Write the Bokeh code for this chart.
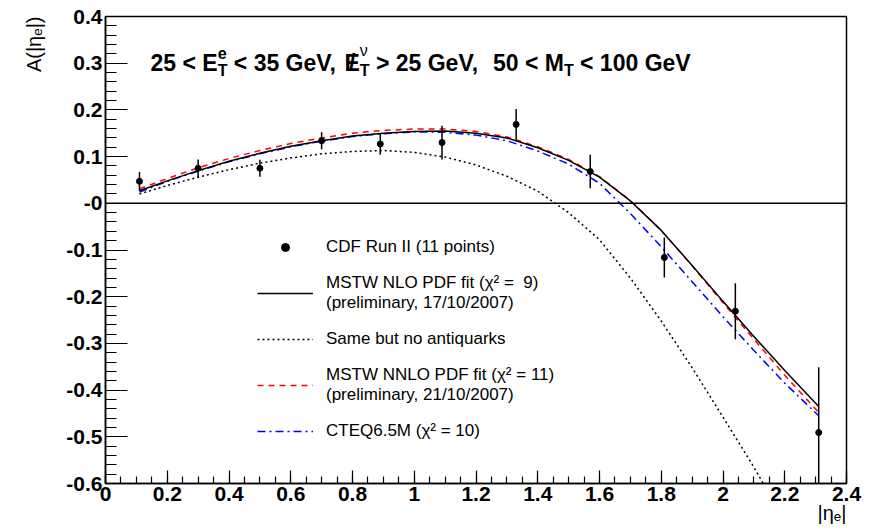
import numpy as np
from bokeh.plotting import figure
from bokeh.models import (Range1d, FixedTicker, Span, Label, Legend, LegendItem, Title,
                          CustomJSTickFormatter)
from bokeh.embed import file_html
from bokeh.resources import INLINE

# ---------------- data ----------------
eta_points = [0.11, 0.30, 0.50, 0.70, 0.89, 1.09, 1.33, 1.57, 1.81, 2.04, 2.31]
asym_points = [0.047, 0.075, 0.075, 0.134, 0.127, 0.130, 0.169, 0.068, -0.116, -0.231, -0.491]
asym_errors = [0.020, 0.019, 0.018, 0.018, 0.023, 0.036, 0.033, 0.036, 0.043, 0.060, 0.140]

eta_curve = [0.11, 0.2, 0.3, 0.4, 0.5, 0.6, 0.7, 0.8, 0.9, 1.0, 1.1, 1.2,
             1.3, 1.4, 1.5, 1.6, 1.7, 1.8, 1.9, 2.0, 2.1, 2.2, 2.31]
mstw_nlo = [0.027, 0.048, 0.070, 0.090, 0.107, 0.122, 0.134, 0.144, 0.150, 0.154, 0.155, 0.150,
            0.140, 0.119, 0.092, 0.056, 0.005, -0.058, -0.133, -0.210, -0.285, -0.358, -0.435]
no_antiquarks = [0.020, 0.038, 0.056, 0.072, 0.086, 0.097, 0.106, 0.111, 0.113, 0.109, 0.099, 0.082,
                 0.058, 0.026, -0.020, -0.078, -0.160, -0.252, -0.352, -0.458, -0.565, -0.680, -0.810]
mstw_nnlo = [0.031, 0.053, 0.076, 0.096, 0.113, 0.128, 0.140, 0.150, 0.156, 0.159, 0.159, 0.154,
             0.142, 0.121, 0.094, 0.057, 0.006, -0.058, -0.134, -0.213, -0.291, -0.368, -0.448]
cteq65m = [0.024, 0.047, 0.069, 0.089, 0.106, 0.121, 0.133, 0.143, 0.149, 0.153, 0.152, 0.146,
           0.134, 0.112, 0.084, 0.043, -0.022, -0.093, -0.168, -0.243, -0.315, -0.385, -0.455]

x_ticks = [0.0, 0.2, 0.4, 0.6, 0.8, 1.0, 1.2, 1.4, 1.6, 1.8, 2.0, 2.2, 2.4]
x_tick_labels = ["0", "0.2", "0.4", "0.6", "0.8", "1", "1.2", "1.4", "1.6", "1.8", "2", "2.2", "2.4"]
y_ticks = [-0.6, -0.5, -0.4, -0.3, -0.2, -0.1, 0.0, 0.1, 0.2, 0.3, 0.4]
y_tick_labels = ["-0.6", "-0.5", "-0.4", "-0.3", "-0.2", "-0.1", "-0", "0.1", "0.2", "0.3", "0.4"]

x_title = "|\u03b7\u2091|"
y_title = "A(|\u03b7\u2091|)"

legend_labels = [
    "CDF Run II (11 points)",
    "MSTW NLO PDF fit (\u03c7\u00b2 =  9)\n(preliminary, 17/10/2007)",
    "Same but no antiquarks",
    "MSTW NNLO PDF fit (\u03c7\u00b2 = 11)\n(preliminary, 21/10/2007)",
    "CTEQ6.5M (\u03c7\u00b2 = 10)",
]

FONT = "Liberation Sans"

# ---------------- figure ----------------
XMIN, XMAX, YMIN, YMAX = 0.0, 2.4, -0.6, 0.4
BL, BR, BT, BB = 105, 23, 16, 49
W, H = 869, 532

p = figure(width=W, height=H, x_range=Range1d(XMIN, XMAX), y_range=Range1d(YMIN, YMAX),
           output_backend="svg", toolbar_location=None,
           min_border_left=BL, min_border_right=BR, min_border_top=BT, min_border_bottom=BB)
p.xgrid.visible = False
p.ygrid.visible = False
p.background_fill_color = "white"
p.border_fill_color = "white"
p.outline_line_color = "black"
p.outline_line_width = 1.5

fmt_code = """
for (let i = 0; i < tick_vals.length; i++) {
  if (Math.abs(tick_vals[i] - tick) < 1e-6) return tick_labels[i];
}
return '';
"""

xa = p.xaxis[0]
xa.ticker = FixedTicker(ticks=x_ticks, minor_ticks=list(np.round(np.arange(0, 2.4001, 0.05), 4)))
xa.formatter = CustomJSTickFormatter(args=dict(tick_vals=x_ticks, tick_labels=x_tick_labels), code=fmt_code)
xa.major_tick_in = 13
xa.major_tick_out = 0
xa.minor_tick_in = 7
xa.minor_tick_out = 0
xa.axis_line_width = 1.5
xa.major_tick_line_width = 1.2
xa.minor_tick_line_width = 1.2
xa.major_label_text_font = FONT
xa.major_label_text_font_style = "bold"
xa.major_label_text_font_size = "21px"
xa.major_label_text_color = "black"
xa.major_label_standoff = 3

ya = p.yaxis[0]
ya.ticker = FixedTicker(ticks=y_ticks, minor_ticks=list(np.round(np.arange(-0.6, 0.4001, 0.02), 4)))
ya.formatter = CustomJSTickFormatter(args=dict(tick_vals=y_ticks, tick_labels=y_tick_labels), code=fmt_code)
ya.major_tick_in = 22
ya.major_tick_out = 0
ya.minor_tick_in = 11
ya.minor_tick_out = 0
ya.axis_line_width = 1.5
ya.major_tick_line_width = 1.2
ya.minor_tick_line_width = 1.2
ya.major_label_text_font = FONT
ya.major_label_text_font_style = "bold"
ya.major_label_text_font_size = "21px"
ya.major_label_text_color = "black"
ya.major_label_standoff = 3

# axis titles as side-panel titles (right/top aligned like the original)
p.add_layout(Title(text=y_title, align="right", text_font=FONT, text_font_style="normal",
                   text_font_size="20px", text_color="black", standoff=38), "left")
p.add_layout(Title(text=x_title, align="right", text_font=FONT, text_font_style="normal",
                   text_font_size="20px", text_color="black", standoff=-8), "below")

p.add_layout(Span(location=0, dimension="width", line_color="black", line_width=1.5))

# ---------------- curves & points ----------------
r_cteq = p.line(eta_curve, cteq65m, line_color="#0000ff", line_width=1.5, line_dash="8 4 2 4")
r_noaq = p.line(eta_curve, no_antiquarks, line_color="black", line_width=1.5, line_dash="2 3")
r_nnlo = p.line(eta_curve, mstw_nnlo, line_color="#ff0000", line_width=1.5, line_dash="6 5")
r_nlo = p.line(eta_curve, mstw_nlo, line_color="black", line_width=1.5)

lo = [y - e for y, e in zip(asym_points, asym_errors)]
hi = [y + e for y, e in zip(asym_points, asym_errors)]
p.segment(x0=eta_points, y0=lo, x1=eta_points, y1=hi, line_color="black", line_width=1.5)
r_pts = p.scatter(eta_points, asym_points, size=6, color="black")

legend = Legend(items=[
    LegendItem(label=legend_labels[0], renderers=[r_pts]),
    LegendItem(label=legend_labels[1], renderers=[r_nlo]),
    LegendItem(label=legend_labels[2], renderers=[r_noaq]),
    LegendItem(label=legend_labels[3], renderers=[r_nnlo]),
    LegendItem(label=legend_labels[4], renderers=[r_cteq]),
], location=(152, 42))
legend.label_text_font = FONT
legend.label_text_font_size = "17px"
legend.label_text_color = "black"
legend.glyph_width = 56
legend.glyph_height = 20
legend.label_height = 20
legend.label_standoff = 13
legend.spacing = 16
legend.padding = 0
legend.margin = 0
legend.border_line_alpha = 0
legend.background_fill_alpha = 0
p.add_layout(legend)

# ---------------- title text inside the frame ----------------
FW = W - BL - BR
FH = H - BT - BB


def dx(px):
    return XMIN + (px - BL) / FW * (XMAX - XMIN)


def dy(py):
    return YMAX - (py - BT) / FH * (YMAX - YMIN)


BOLD_W = {**{d: 0.556 for d in "0123456789"}, " ": 0.278, "<": 0.584, ">": 0.584, "E": 0.667,
          "G": 0.778, "e": 0.556, "V": 0.667, ",": 0.278, "M": 0.833, "T": 0.611, "/": 0.278}


def tw(s, size):
    return sum(BOLD_W.get(c, 0.556) for c in s) * size


def put(text, px, py, size, style="bold"):
    p.add_layout(Label(x=dx(px), y=dy(py), text=text, text_font=FONT, text_font_style=style,
                       text_font_size=f"{size}px", text_color="black", text_align="left",
                       text_baseline="alphabetic"))


F, S = 23, 16
base, sub, sup = 62, 70, 52
x = 150
put("25 < E", x, base, F); x += tw("25 < E", F)
put("T", x, sub, S); put("e", x, sup, S); x += tw("T", S) + tw(" ", F)
put("< 35 GeV,", x, base, F); x += tw("< 35 GeV, ", F)
put("E", x, base, F); put("/", x + (tw("E", F) - tw("/", F)) / 2, base, F); x += tw("E", F)
put("T", x, sub, S); put("\u03bd", x, sup - 2, S, style="normal"); x += tw("T", S) + tw(" ", F)
put("> 25 GeV,", x, base, F); x += tw(">25 GeV,  ", F) + tw(" ", F)
put("50 < M", x, base, F); x += tw("50 < M", F)
put("T", x, sub, S); x += tw("T", S) + tw(" ", F)
put("< 100 GeV", x, base, F)

open("out.html", "w").write(file_html(p, INLINE))
